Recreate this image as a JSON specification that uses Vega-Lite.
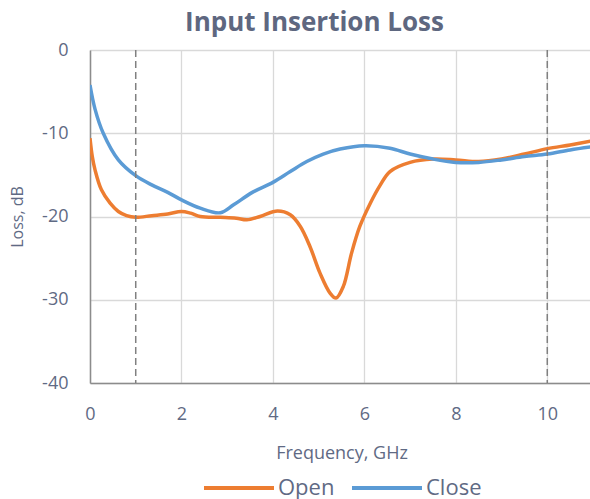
{
  "$schema": "https://vega.github.io/schema/vega-lite/v6.json",
  "width": 503,
  "height": 333,
  "autosize": {"type": "none"},
  "padding": {"left": 90, "top": 50, "right": 0, "bottom": 116},
  "background": "white",
  "title": {
    "text": "Input Insertion Loss",
    "font": "Open Sans",
    "fontSize": 26,
    "fontWeight": "bold",
    "color": "#5e6780",
    "anchor": "middle",
    "dx": -27,
    "offset": 5
  },
  "config": {
    "view": {"stroke": null},
    "font": "Open Sans"
  },
  "datasets": {
    "series": [
      {"f": 0, "loss": -10.6, "s": "Open"},
      {"f": 0.05, "loss": -12.8, "s": "Open"},
      {"f": 0.11, "loss": -14.4, "s": "Open"},
      {"f": 0.25, "loss": -16.8, "s": "Open"},
      {"f": 0.44, "loss": -18.4, "s": "Open"},
      {"f": 0.62, "loss": -19.4, "s": "Open"},
      {"f": 0.8, "loss": -19.9, "s": "Open"},
      {"f": 1.0, "loss": -20.1, "s": "Open"},
      {"f": 1.35, "loss": -19.9, "s": "Open"},
      {"f": 1.7, "loss": -19.7, "s": "Open"},
      {"f": 2.0, "loss": -19.4, "s": "Open"},
      {"f": 2.2, "loss": -19.6, "s": "Open"},
      {"f": 2.41, "loss": -20.0, "s": "Open"},
      {"f": 2.85, "loss": -20.1, "s": "Open"},
      {"f": 3.2, "loss": -20.2, "s": "Open"},
      {"f": 3.43, "loss": -20.4, "s": "Open"},
      {"f": 3.72, "loss": -20.0, "s": "Open"},
      {"f": 4.1, "loss": -19.35, "s": "Open"},
      {"f": 4.38, "loss": -19.8, "s": "Open"},
      {"f": 4.6, "loss": -21.2, "s": "Open"},
      {"f": 4.81, "loss": -23.6, "s": "Open"},
      {"f": 5.03, "loss": -26.8, "s": "Open"},
      {"f": 5.25, "loss": -29.2, "s": "Open"},
      {"f": 5.38, "loss": -29.8, "s": "Open"},
      {"f": 5.54, "loss": -28.4, "s": "Open"},
      {"f": 5.72, "loss": -24.4, "s": "Open"},
      {"f": 5.9, "loss": -21.2, "s": "Open"},
      {"f": 6.13, "loss": -18.4, "s": "Open"},
      {"f": 6.35, "loss": -16.2, "s": "Open"},
      {"f": 6.56, "loss": -14.6, "s": "Open"},
      {"f": 7.0, "loss": -13.5, "s": "Open"},
      {"f": 7.5, "loss": -13.1, "s": "Open"},
      {"f": 8.0, "loss": -13.2, "s": "Open"},
      {"f": 8.5, "loss": -13.4, "s": "Open"},
      {"f": 9.0, "loss": -13.1, "s": "Open"},
      {"f": 9.5, "loss": -12.5, "s": "Open"},
      {"f": 10.0, "loss": -11.85, "s": "Open"},
      {"f": 10.5, "loss": -11.4, "s": "Open"},
      {"f": 11.0, "loss": -10.9, "s": "Open"},
      {"f": 0, "loss": -4.2, "s": "Close"},
      {"f": 0.11, "loss": -7.1, "s": "Close"},
      {"f": 0.29, "loss": -10.0, "s": "Close"},
      {"f": 0.62, "loss": -13.2, "s": "Close"},
      {"f": 1.0, "loss": -15.1, "s": "Close"},
      {"f": 1.35, "loss": -16.2, "s": "Close"},
      {"f": 1.7, "loss": -17.1, "s": "Close"},
      {"f": 2.0, "loss": -18.0, "s": "Close"},
      {"f": 2.41, "loss": -19.0, "s": "Close"},
      {"f": 2.85, "loss": -19.55, "s": "Close"},
      {"f": 3.14, "loss": -18.6, "s": "Close"},
      {"f": 3.55, "loss": -17.1, "s": "Close"},
      {"f": 4.0, "loss": -15.9, "s": "Close"},
      {"f": 4.38, "loss": -14.6, "s": "Close"},
      {"f": 4.74, "loss": -13.4, "s": "Close"},
      {"f": 5.1, "loss": -12.5, "s": "Close"},
      {"f": 5.47, "loss": -11.9, "s": "Close"},
      {"f": 6.0, "loss": -11.5, "s": "Close"},
      {"f": 6.56, "loss": -11.8, "s": "Close"},
      {"f": 7.0, "loss": -12.5, "s": "Close"},
      {"f": 7.5, "loss": -13.1, "s": "Close"},
      {"f": 8.0, "loss": -13.5, "s": "Close"},
      {"f": 8.5, "loss": -13.5, "s": "Close"},
      {"f": 9.0, "loss": -13.2, "s": "Close"},
      {"f": 9.5, "loss": -12.8, "s": "Close"},
      {"f": 10.0, "loss": -12.5, "s": "Close"},
      {"f": 10.5, "loss": -12.0, "s": "Close"},
      {"f": 11.0, "loss": -11.6, "s": "Close"}
    ],
    "marks": [
      {"f": 1},
      {"f": 10}
    ]
  },
  "layer": [
    {
      "data": {"name": "series"},
      "mark": {"type": "line", "interpolate": "catmull-rom", "strokeWidth": 3.5, "clip": true},
      "encoding": {
        "x": {
          "field": "f",
          "type": "quantitative",
          "scale": {"domain": [0, 11], "nice": false, "zero": false},
          "axis": {
            "title": "Frequency, GHz",
            "values": [0, 2, 4, 6, 8, 10],
            "labelFlush": false,
            "grid": true,
            "gridColor": "#d9d9d9",
            "gridWidth": 1.3,
            "domainColor": "#8c8c8c",
            "domainWidth": 1.5,
            "ticks": false,
            "labelPadding": 22,
            "labelFont": "Open Sans",
            "labelFontSize": 18,
            "labelColor": "#5f6a84",
            "titleFont": "Open Sans",
            "titleFontSize": 18,
            "titleFontWeight": "normal",
            "titleColor": "#5f6a84",
            "titlePadding": 21
          }
        },
        "y": {
          "field": "loss",
          "type": "quantitative",
          "scale": {"domain": [-40, 0], "nice": false},
          "axis": {
            "title": "Loss, dB",
            "values": [-40, -30, -20, -10, 0],
            "labelExpr": "datum.value == 0 ? '0' : '-' + abs(datum.value)",
            "grid": true,
            "gridColor": "#d9d9d9",
            "gridWidth": 1.3,
            "domainColor": "#8c8c8c",
            "domainWidth": 1.5,
            "ticks": false,
            "labelPadding": 22,
            "labelFont": "Open Sans",
            "labelFontSize": 18,
            "labelColor": "#5f6a84",
            "titleFont": "Open Sans",
            "titleFontSize": 16,
            "titleFontWeight": "normal",
            "titleColor": "#5f6a84",
            "titlePadding": 16
          }
        },
        "color": {
          "field": "s",
          "type": "nominal",
          "scale": {"domain": ["Open", "Close"], "range": ["#ed7d31", "#5b9bd5"]},
          "legend": {
            "title": null,
            "orient": "none",
            "legendX": 112,
            "legendY": 401,
            "direction": "horizontal",
            "symbolType": "stroke",
            "symbolSize": 4900,
            "symbolStrokeWidth": 4,
            "labelFont": "Open Sans",
            "labelFontSize": 22,
            "labelColor": "#5f6a84",
            "labelOffset": 2,
            "columnPadding": 9
          }
        },
        "order": {"field": "f", "type": "quantitative"}
      }
    },
    {
      "data": {"name": "marks"},
      "mark": {"type": "rule", "color": "#808080", "strokeWidth": 1.5, "strokeDash": [7, 4]},
      "encoding": {
        "x": {"field": "f", "type": "quantitative"}
      }
    }
  ]
}
